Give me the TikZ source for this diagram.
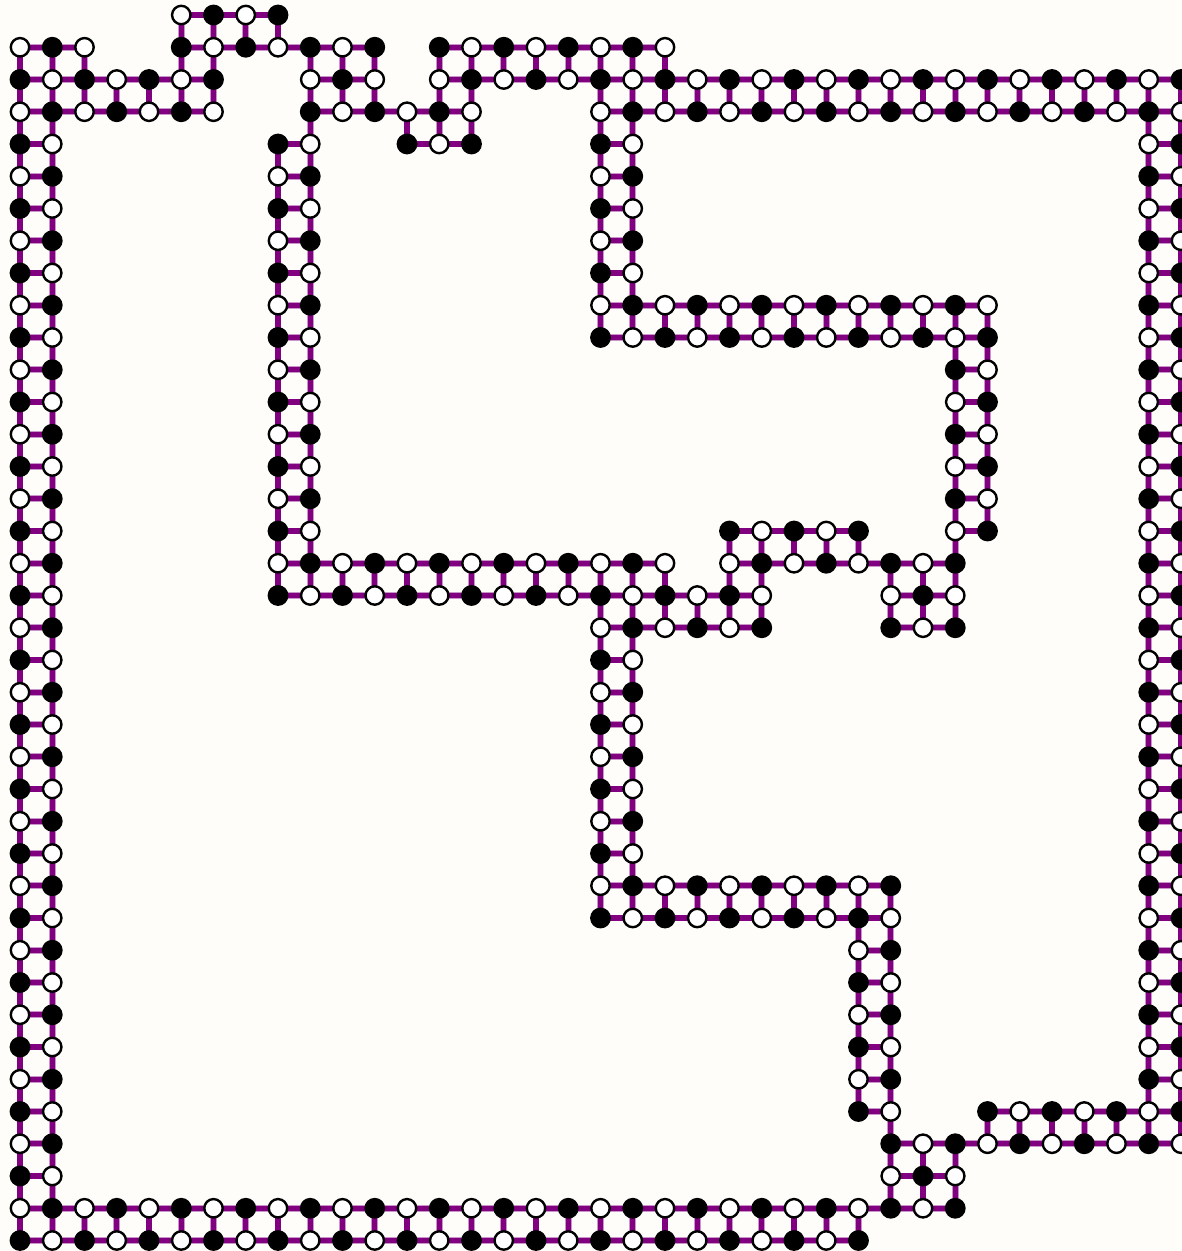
\documentclass[tikz,border=0pt]{standalone}
\definecolor{bgc}{RGB}{254,253,250}
\definecolor{edgec}{RGB}{128,0,128}
\definecolor{haloc}{RGB}{200,150,200}
\pgfdeclarelayer{back}
\pgfdeclarelayer{edges}
\pgfsetlayers{back,edges,main}
\tikzset{
  vtx/.style={circle,draw=black,line width=2.1pt,minimum size=0.57cm,inner sep=0pt},
  wv/.style={vtx,fill=white},
  bv/.style={vtx,fill=black},
  link/.style={draw=edgec,line width=4.6pt,
    preaction={draw=haloc,line width=5.8pt}}
}
\def\gridrows{0/{5/8},1/{0/2,5/11,13/20},2/{0/6,9/11,13/36},3/{0/6,9/14,18/36},
4/{0/1,8/9,12/14,18/19,35/36},5/{0/1,8/9,18/19,35/36},6/{0/1,8/9,18/19,35/36},
7/{0/1,8/9,18/19,35/36},8/{0/1,8/9,18/19,35/36},9/{0/1,8/9,18/30,35/36},
10/{0/1,8/9,18/30,35/36},11/{0/1,8/9,29/30,35/36},12/{0/1,8/9,29/30,35/36},
13/{0/1,8/9,29/30,35/36},14/{0/1,8/9,29/30,35/36},15/{0/1,8/9,29/30,35/36},
16/{0/1,8/9,22/26,29/30,35/36},17/{0/1,8/20,22/29,35/36},18/{0/1,8/23,27/29,35/36},
19/{0/1,18/23,27/29,35/36},20/{0/1,18/19,35/36},21/{0/1,18/19,35/36},
22/{0/1,18/19,35/36},23/{0/1,18/19,35/36},24/{0/1,18/19,35/36},
25/{0/1,18/19,35/36},26/{0/1,18/19,35/36},27/{0/1,18/27,35/36},
28/{0/1,18/27,35/36},29/{0/1,26/27,35/36},30/{0/1,26/27,35/36},
31/{0/1,26/27,35/36},32/{0/1,26/27,35/36},33/{0/1,26/27,35/36},
34/{0/1,26/27,30/36},35/{0/1,27/36},36/{0/1,27/29},37/{0/29},38/{0/26}}
\begin{document}
\begin{tikzpicture}
\begin{pgfonlayer}{back}
\fill[bgc] (-0.6202,0.4651) rectangle (36.031,-38.326);
\end{pgfonlayer}
\useasboundingbox (-0.6202,0.4651) rectangle (36.031,-38.326);
% nodes
\foreach \j/\rl in \gridrows {
  \foreach \a/\b in \rl {
    \foreach \i in {\a,...,\b} {
      \expandafter\gdef\csname nd-\i-\j\endcsname{}
      \pgfmathtruncatemacro\pty{mod(\i+\j,2)}
      \ifnum\pty=0
        \node[bv] (n-\i-\j) at (\i,-\j) {};
      \else
        \node[wv] (n-\i-\j) at (\i,-\j) {};
      \fi
    }
  }
}
% connectors
\begin{pgfonlayer}{edges}
\foreach \j/\rl in \gridrows {
  \foreach \a/\b in \rl {
    \foreach \i in {\a,...,\b} {
      \pgfmathtruncatemacro\ii{\i+1}
      \pgfmathtruncatemacro\jj{\j+1}
      \ifcsname nd-\ii-\j\endcsname
        \draw[link] (n-\i-\j.center) -- (n-\ii-\j.center);
      \fi
      \ifcsname nd-\i-\jj\endcsname
        \draw[link] (n-\i-\j.center) -- (n-\i-\jj.center);
      \fi
    }
  }
}
\end{pgfonlayer}
\end{tikzpicture}
\end{document}
